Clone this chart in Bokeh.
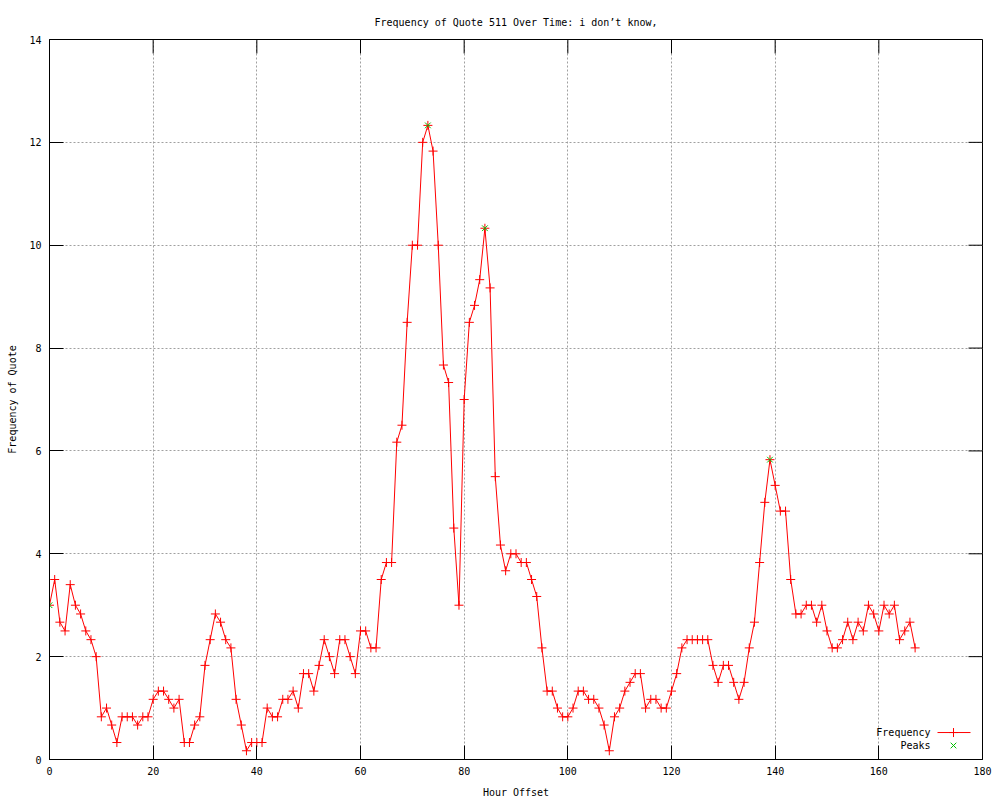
from bokeh.plotting import figure
from bokeh.models import Range1d, FixedTicker
from bokeh.core.properties import value
from bokeh.embed import file_html
from bokeh.resources import INLINE

# ---- data ----
hours = list(range(168))
frequency = [
    3.0, 3.5, 2.67, 2.5, 3.4, 3.0, 2.83, 2.5, 2.33, 2.0,
    0.83, 1.0, 0.67, 0.33, 0.83, 0.83, 0.83, 0.67, 0.83, 0.83,
    1.17, 1.33, 1.33, 1.17, 1.0, 1.17, 0.33, 0.33, 0.67, 0.83,
    1.83, 2.33, 2.83, 2.67, 2.33, 2.17, 1.17, 0.67, 0.17, 0.33,
    0.33, 0.33, 1.0, 0.83, 0.83, 1.17, 1.17, 1.33, 1.0, 1.67,
    1.67, 1.33, 1.83, 2.33, 2.0, 1.67, 2.33, 2.33, 2.0, 1.67,
    2.5, 2.5, 2.17, 2.17, 3.5, 3.83, 3.83, 6.17, 6.5, 8.5,
    10.0, 10.0, 12.0, 12.33, 11.83, 10.0, 7.67, 7.33, 4.5, 3.0,
    7.0, 8.5, 8.83, 9.33, 10.33, 9.17, 5.5, 4.17, 3.67, 4.0,
    4.0, 3.83, 3.83, 3.5, 3.17, 2.17, 1.33, 1.33, 1.0, 0.83,
    0.83, 1.0, 1.33, 1.33, 1.17, 1.17, 1.0, 0.67, 0.17, 0.83,
    1.0, 1.33, 1.5, 1.67, 1.67, 1.0, 1.17, 1.17, 1.0, 1.0,
    1.33, 1.67, 2.17, 2.33, 2.33, 2.33, 2.33, 2.33, 1.83, 1.5,
    1.83, 1.83, 1.5, 1.17, 1.5, 2.17, 2.67, 3.83, 5.0, 5.83,
    5.33, 4.83, 4.83, 3.5, 2.83, 2.83, 3.0, 3.0, 2.67, 3.0,
    2.5, 2.17, 2.17, 2.33, 2.67, 2.33, 2.67, 2.5, 3.0, 2.83,
    2.5, 3.0, 2.83, 3.0, 2.33, 2.5, 2.67, 2.17,
]
peak_hours = [0, 73, 84, 139]
peak_values = [3.0, 12.33, 10.33, 5.83]
x_ticks = [0, 20, 40, 60, 80, 100, 120, 140, 160, 180]
y_ticks = [0, 2, 4, 6, 8, 10, 12, 14]
legend_labels = ["Frequency", "Peaks"]

title_text = "Frequency of Quote 511 Over Time: i don\u2019t know,"

FONT = "DejaVu Sans Mono"
FS = "10px"
RED = "#ff0000"
GREEN = "#00c000"

X0, X1, Y0, Y1 = 0, 180, 0, 14
W, H = 1000, 800
BL, BR, BT, BB = 49, 18, 39, 40
FW, FH = W - BL - BR, H - BT - BB
TICK = 14

p = figure(width=W, height=H, output_backend="svg", toolbar_location=None,
           x_range=Range1d(X0, X1), y_range=Range1d(Y0, Y1),
           min_border_left=BL, min_border_right=BR,
           min_border_top=BT, min_border_bottom=BB,
           background_fill_color="white", border_fill_color="white")
p.outline_line_color = "black"
p.outline_line_width = 1

p.title.text = title_text
p.title.align = "center"
p.title.text_font = FONT
p.title.text_font_size = FS
p.title.text_font_style = "normal"
p.title.text_color = "black"
p.title.standoff = 24

for ax, ticks in ((p.xaxis[0], x_ticks), (p.yaxis[0], y_ticks)):
    ax.ticker = FixedTicker(ticks=ticks)
    ax.major_tick_in = TICK
    ax.major_tick_out = 0
    ax.minor_tick_in = 0
    ax.minor_tick_out = 0
    ax.axis_line_color = "black"
    ax.major_tick_line_color = "black"
    ax.major_label_text_font = FONT
    ax.major_label_text_font_size = FS
    ax.major_label_text_color = "black"
    ax.axis_label_text_font = FONT
    ax.axis_label_text_font_size = FS
    ax.axis_label_text_font_style = "normal"
    ax.axis_label_text_color = "black"

p.xaxis.axis_label = "Hour Offset"
p.yaxis.axis_label = "Frequency of Quote"
p.xaxis.major_label_standoff = 7
p.xaxis.axis_label_standoff = 9
p.yaxis.major_label_standoff = 8
p.yaxis.axis_label_standoff = 8

p.xgrid.ticker = FixedTicker(ticks=x_ticks)
p.ygrid.ticker = FixedTicker(ticks=y_ticks)
for g in (p.xgrid[0], p.ygrid[0]):
    g.grid_line_color = "#a0a0a0"
    g.grid_line_dash = "2 2"
    g.grid_line_width = 1

# mirrored inward ticks on top and right borders (gnuplot style)
dy_tick = TICK * (Y1 - Y0) / FH
dx_tick = TICK * (X1 - X0) / FW
p.segment(x0=x_ticks, y0=[Y1] * len(x_ticks), x1=x_ticks,
          y1=[Y1 - dy_tick] * len(x_ticks), line_color="black", line_width=1)
p.segment(x0=[X1] * len(y_ticks), y0=y_ticks, x1=[X1 - dx_tick] * len(y_ticks),
          y1=y_ticks, line_color="black", line_width=1)

# data
p.line(hours, frequency, line_color=RED, line_width=1)
p.scatter(hours, frequency, marker="cross", size=9, line_color=RED, line_width=1)
p.scatter(peak_hours, peak_values, marker="x", size=8, line_color=GREEN, line_width=1)

# legend (gnuplot style: text left, sample right), in frame pixel space
p.extra_x_ranges = {"leg": Range1d(0, FW)}
p.extra_y_ranges = {"leg": Range1d(0, FH)}
LX_TEXT, LX0, LX1, LXM = 881, 888, 921, 904
LY = [27, 14]
p.text(x=[LX_TEXT, LX_TEXT], y=LY, text=legend_labels,
       x_range_name="leg", y_range_name="leg",
       text_align="right", text_baseline="middle",
       text_font=value(FONT), text_font_size=FS, text_color="black")
p.segment(x0=[LX0], y0=[LY[0]], x1=[LX1], y1=[LY[0]],
          x_range_name="leg", y_range_name="leg", line_color=RED, line_width=1)
p.scatter([LXM], [LY[0]], marker="cross", size=9, line_color=RED,
          x_range_name="leg", y_range_name="leg")
p.scatter([LXM], [LY[1]], marker="x", size=8, line_color=GREEN,
          x_range_name="leg", y_range_name="leg")

open("out.html", "w").write(file_html(p, INLINE))
